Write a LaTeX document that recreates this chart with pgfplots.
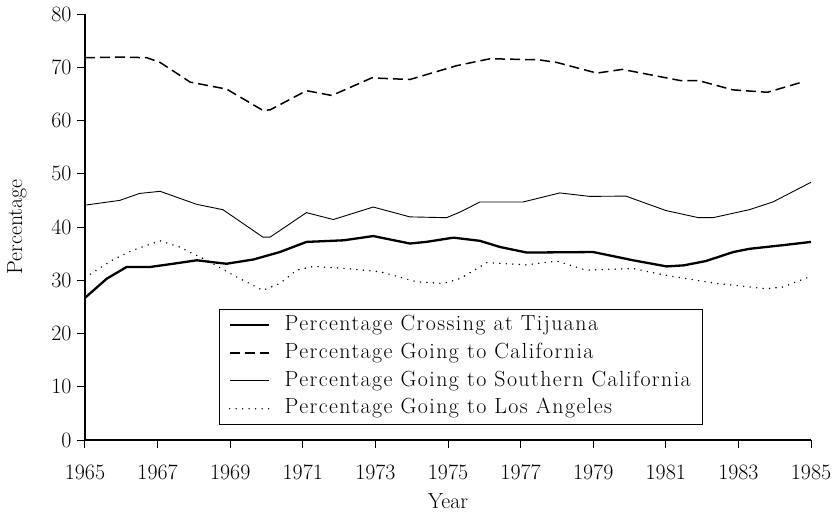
\documentclass[border=0pt]{standalone}
\usepackage{fontspec}
\setmainfont{Latin Modern Roman}
\usepackage{pgfplots}
\pgfplotsset{compat=1.18}
\begin{document}
\begin{tikzpicture}[font=\fontsize{22}{26}\selectfont]
\useasboundingbox (-85bp,-75bp) rectangle (752bp,440bp);
\begin{axis}[
  at={(0,0)}, anchor=south west,
  scale only axis, width=726bp, height=426bp,
  xmin=1965, xmax=1985, ymin=0, ymax=80,
  xtick={1965,1967,...,1985}, ytick={0,10,...,80},
  /pgf/number format/assume math mode=true,
  axis lines*=left,
  axis line style={line width=1.3bp, black},
  tick align=outside, major tick length=8bp,
  tick style={line width=1bp, black},
  xticklabel style={/pgf/number format/1000 sep={}, yshift=-13bp},
  yticklabel style={xshift=-2bp},
  every axis x label/.style={at={(axis description cs:0.5,0)}, yshift=-61bp, anchor=center},
  every axis y label/.style={at={(axis description cs:0,0.5)}, xshift=-68bp, rotate=90, anchor=center},
  xlabel={Year}, ylabel={Percentage},
  legend cell align=left,
  legend style={at={(rel axis cs:0.1846,0.035)}, anchor=south west, draw=black, line width=0.8bp,
    inner xsep=9bp, inner ysep=2bp, row sep=0bp,
    font=\fontsize{22}{26}\selectfont\addfontfeature{LetterSpace=6.5},
    nodes={inner ysep=3.2bp, inner xsep=3bp, text height=16bp, text depth=5.5bp}},
  legend image code/.code={\draw[#1] (0bp,0bp) -- (39bp,0bp); \path (51bp,0bp);},
]
\addplot[black, line width=2.3bp, line join=round] coordinates {
(1965.0,26.7) (1965.6,30.3) (1966.15,32.5) (1966.8,32.5) (1967.43,33.1)
(1968.08,33.75) (1968.5,33.4) (1968.9,33.1) (1969.64,33.9) (1970.37,35.3)
(1971.1,37.2) (1972.12,37.5) (1972.94,38.3) (1973.3,37.8) (1973.95,36.9)
(1974.4,37.2) (1975.15,38.0) (1975.88,37.4) (1976.43,36.25) (1977.17,35.2)
(1979.0,35.3) (1980.1,33.75) (1981.02,32.6) (1981.5,32.8) (1982.1,33.6) (1982.86,35.3)
(1983.3,35.9) (1984.24,36.6) (1985.0,37.2)};
\addlegendentry{Percentage Crossing at Tijuana}
\addplot[black, line width=1.5bp, dash pattern=on 10bp off 5bp] coordinates {
(1965.0,71.8) (1966.0,71.9) (1966.7,71.8) (1967.07,70.9) (1967.9,67.2)
(1968.9,65.9) (1969.9,61.9) (1970.1,62.0) (1971.1,65.6) (1971.8,64.7)
(1972.9,68.0) (1973.95,67.7) (1975.24,70.3) (1976.16,71.6) (1977.5,71.4)
(1978.0,70.9) (1979.1,68.9) (1979.8,69.6) (1981.4,67.5) (1981.9,67.5)
(1982.85,65.75) (1983.8,65.3) (1984.8,67.3)};
\addlegendentry{Percentage Going to California}
\addplot[black, line width=0.9bp] coordinates {
(1965.0,44.1) (1965.96,45.0) (1966.5,46.3) (1967.07,46.7) (1968.08,44.25)
(1968.8,43.25) (1969.9,38.1) (1970.1,38.1) (1971.1,42.7) (1971.84,41.4)
(1972.94,43.75) (1973.95,41.9) (1974.96,41.75) (1975.33,42.8) (1975.88,44.7)
(1977.07,44.7) (1978.08,46.4) (1978.9,45.75) (1979.9,45.8) (1981.0,43.1)
(1981.9,41.75) (1982.3,41.75) (1983.3,43.25) (1983.95,44.7) (1985.0,48.4)};
\addlegendentry{Percentage Going to Southern California}
\addplot[black, line width=1.6bp, line cap=round, dash pattern=on 0bp off 6.5bp] coordinates {
(1965.0,30.5) (1965.78,33.9) (1966.3,35.6) (1967.07,37.4) (1967.6,36.25)
(1968.35,33.75) (1969.18,30.6) (1969.9,28.1) (1970.37,29.4) (1970.83,31.9)
(1971.3,32.6) (1972.2,32.2) (1973.13,31.6) (1974.14,29.7) (1974.87,29.4)
(1975.33,30.3) (1976.07,33.3) (1977.17,32.9) (1978.0,33.6) (1978.8,31.9)
(1980.1,32.2) (1981.02,30.9) (1982.4,29.4) (1983.78,28.4) (1984.24,28.75)
(1984.9,30.5)};
\addlegendentry{Percentage Going to Los Angeles}
\end{axis}
\end{tikzpicture}
\end{document}
